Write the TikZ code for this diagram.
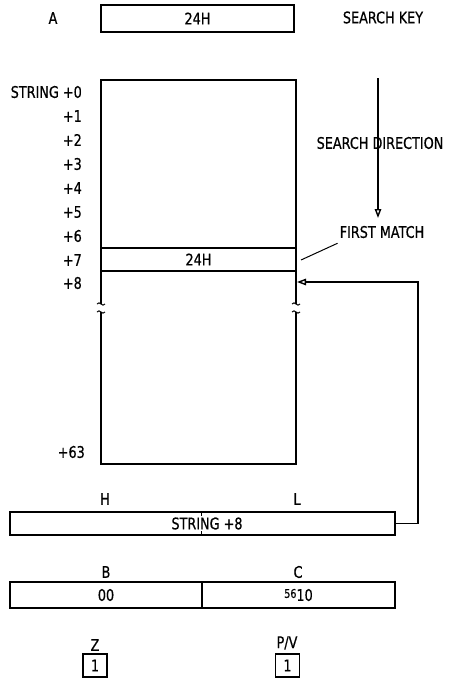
\documentclass[tikz,border=0pt]{standalone}
\usepackage{fontspec}
\setmainfont[FakeStretch=0.8,FakeBold=0.6]{DejaVu Sans}
\usetikzlibrary{arrows.meta}
\begin{document}
\begin{tikzpicture}[x=1pt,y=-1pt,
  every node/.style={font=\fontsize{16}{18}\selectfont, inner sep=0pt},
  ln/.style={line width=1.4pt},
  thin line/.style={line width=1pt},
  reg/.style={draw, line width=1.4pt},
  lbl/.style={anchor=east},
  flag/.style={draw, line width=1.2pt, minimum width=24pt, minimum height=23pt},
  tip/.style={-{Triangle[open,length=9pt,width=6.5pt]}}]
\useasboundingbox (0,0) rectangle (449,680);

% accumulator
\node (alab) at (53,18) {A};
\node[reg, minimum width=193pt, minimum height=27pt] (akey) at (197.5,18.5) {24H};
\node (skey) at (383,17.5) {SEARCH KEY};

% memory block
\coordinate (tl) at (101,80);
\coordinate (tr) at (296,80);
\coordinate (bl) at (101,464);
\coordinate (br) at (296,464);
\draw[ln] (101,304) -- (tl) -- (tr) -- (296,304);
\draw[ln] (101,312) -- (bl) -- (br) -- (296,312);
\foreach \x in {101,296}{
  \draw[thin line] (\x-4,304) .. controls (\x-1.5,300) and (\x+1.5,308) .. (\x+4,304);
  \draw[thin line] (\x-4,312) .. controls (\x-1.5,308) and (\x+1.5,316) .. (\x+4,312);
}
\draw[ln] (101,248) -- (296,248);
\draw[ln] (101,271) -- (296,271);
\node (m7) at (198.5,259.5) {24H};

% offsets
\node[lbl] (s0) at (82,92) {STRING +0};
\node[lbl] (s1) at (82,116) {+1};
\node[lbl] (s2) at (82,140) {+2};
\node[lbl] (s3) at (82,164) {+3};
\node[lbl] (s4) at (82,188) {+4};
\node[lbl] (s5) at (82,212) {+5};
\node[lbl] (s6) at (82,236) {+6};
\node[lbl] (s7) at (82,260) {+7};
\node[lbl] (s8) at (82,283) {+8};
\node[lbl] (s63) at (85,452) {+63};

% search direction
\coordinate (sd0) at (378,78);
\coordinate (sd1) at (378,218);
\draw[ln, tip] (sd0) -- (sd1);
\node (sdir) at (380,143) {SEARCH DIRECTION};

% first match
\node (fm) at (382,232) {FIRST MATCH};
\coordinate (fmend) at (301,260);
\draw[thin line] (fm.south west) ++(-2,5) -- (fmend);

% HL register
\node[reg, minimum width=385pt, minimum height=23pt] (hl) at (202.5,523.5) {};
\node (hltxt) at (207,523.5) {STRING +8};
\draw[line width=1pt] (201,512) -- (201,516);
\draw[line width=1pt] (201,535) -- (201,531);
\node (hlab) at (105,499) {H};
\node (llab) at (297,499) {L};

% pointer arrow
\coordinate (m8) at (297,282);
\coordinate (corner) at (418,282);
\draw[ln, tip] (hl.east) -| (corner) -- (m8);

% BC register
\node[reg, minimum width=192pt, minimum height=26pt] (b) at (106,595) {00};
\node[reg, minimum width=193pt, minimum height=26pt] (c) at (298.5,595) {\raisebox{1pt}{\fontsize{12}{14}\selectfont 56}\raisebox{-2pt}{10}};
\node (blab) at (106,572) {B};
\node (clab) at (298,572) {C};

% flags
\node (zlab) at (95,645) {Z};
\node[flag] (zf) at (95,665.5) {1};
\node (pvlab) at (287,643) {P/V};
\node[flag] (pvf) at (287.5,665.5) {1};
\end{tikzpicture}
\end{document}
